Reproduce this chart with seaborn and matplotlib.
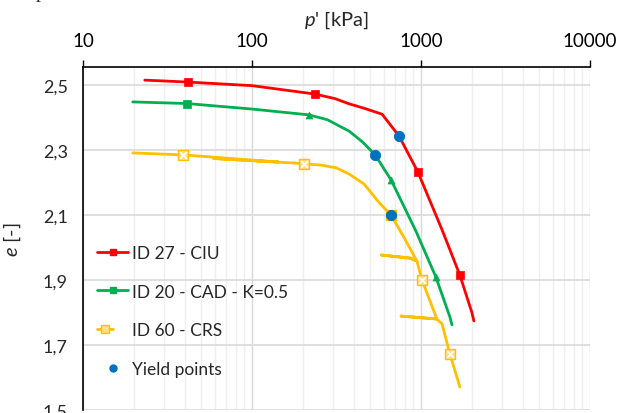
import numpy as np
import pandas as pd
import matplotlib
matplotlib.use("Agg")
import matplotlib.pyplot as plt
import seaborn as sns
from matplotlib.lines import Line2D
from matplotlib.legend_handler import HandlerTuple
from matplotlib.ticker import FixedLocator, NullFormatter

# ---------------- data ----------------
ciu_p = [23.2, 42, 100, 237, 310, 376, 470, 589, 741, 959, 1331, 1698, 2000, 2055]
ciu_e = [2.515, 2.509, 2.498, 2.472, 2.458, 2.442, 2.427, 2.41, 2.343, 2.232, 2.055, 1.915, 1.80, 1.774]
ciu_mark_p = [42, 237, 959, 1698]
ciu_mark_e = [2.509, 2.472, 2.232, 1.915]

cad_p = [19.7, 41.1, 100, 218, 280, 328, 376, 450, 535, 665, 934, 1225, 1483, 1524]
cad_e = [2.448, 2.443, 2.426, 2.408, 2.393, 2.374, 2.358, 2.325, 2.285, 2.208, 2.05, 1.909, 1.786, 1.762]
cad_sq_p = [41.1]
cad_sq_e = [2.443]
cad_tri_p = [218, 665, 1225]
cad_tri_e = [2.408, 2.208, 1.909]

crs_p = [19.7, 38.9, 59, 143, 59, 150, 204, 260, 315, 376, 461, 565, 665, 795, 946, 871, 581,
         871, 946, 1014, 1241, 762, 1241, 1331, 1483, 1698]
crs_e = [2.291, 2.285, 2.278, 2.263, 2.274, 2.262, 2.258, 2.253, 2.245, 2.226, 2.195, 2.138, 2.10,
         2.03, 1.958, 1.968, 1.977, 1.966, 1.958, 1.90, 1.78, 1.789, 1.78, 1.765, 1.672, 1.571]
crs_mark_p = [38.9, 204, 665, 1014, 1483]
crs_mark_e = [2.285, 2.258, 2.10, 1.90, 1.672]

yield_p = [741, 535, 665]
yield_e = [2.343, 2.285, 2.10]

labels = ["ID 27 - CIU", "ID 20 - CAD - K=0.5", "ID 60 - CRS", "Yield points"]
ytick_vals = [1.5, 1.7, 1.9, 2.1, 2.3, 2.5]
ytick_labels = ["1,5", "1,7", "1,9", "2,1", "2,3", "2,5"]
xtick_vals = [10, 100, 1000, 10000]
xtick_labels = ["10", "100", "1000", "10000"]

RED = "#FF0000"
GREEN = "#00B050"
YEL = "#FFC000"
BLUE = "#0070C0"

# ---------------- style ----------------
sns.set_style("white")
plt.rcParams["font.family"] = ["Lato", "DejaVu Sans"]
plt.rcParams["mathtext.fontset"] = "custom"
plt.rcParams["mathtext.it"] = "Lato:italic"
plt.rcParams["mathtext.rm"] = "Lato"

fig = plt.figure(figsize=(6.17, 4.14), dpi=100)
W, H = 617, 414
ax = fig.add_axes([83 / W, 3 / H, 507 / W, 343 / H])

ax.set_xscale("log")
ax.set_xlim(10, 10000)
ax.set_ylim(1.5, 2.5 + 18 * 0.2 / 65)

# grid
ax.xaxis.set_minor_locator(FixedLocator([m * 10 ** d for d in (1, 2, 3) for m in range(2, 10)]))
ax.xaxis.set_minor_formatter(NullFormatter())
ax.grid(True, which="minor", axis="x", color="#EFEFEF", lw=1.0)
ax.grid(True, which="major", axis="x", color="#D9D9D9", lw=1.0)
ax.grid(True, which="major", axis="y", color="#D9D9D9", lw=1.2)
ax.set_axisbelow(True)

lw = 2.0
# lines
def line(p, e, color):
    df = pd.DataFrame({"p": p, "e": e})
    sns.lineplot(data=df, x="p", y="e", sort=False, estimator=None, color=color,
                 lw=lw, ax=ax, legend=False, zorder=3)

line(crs_p, crs_e, YEL)
line(cad_p, cad_e, GREEN)
line(ciu_p, ciu_e, RED)

# markers
sns.scatterplot(x=crs_mark_p, y=crs_mark_e, marker="s", s=42, color="#FFE08A",
                edgecolor=YEL, linewidth=1.0, ax=ax, zorder=4, legend=False)
sns.scatterplot(x=crs_mark_p, y=crs_mark_e, marker="x", s=24, color="white",
                linewidth=1.2, ax=ax, zorder=5, legend=False)
sns.scatterplot(x=cad_sq_p, y=cad_sq_e, marker="s", s=38, color=GREEN,
                edgecolor=GREEN, ax=ax, zorder=4, legend=False)
sns.scatterplot(x=cad_tri_p, y=cad_tri_e, marker="^", s=26, color=GREEN,
                edgecolor=GREEN, ax=ax, zorder=4, legend=False)
sns.scatterplot(x=ciu_mark_p, y=ciu_mark_e, marker="s", s=38, color=RED,
                edgecolor=RED, ax=ax, zorder=4, legend=False)
sns.scatterplot(x=yield_p, y=yield_e, marker="o", s=55, color=BLUE,
                edgecolor=BLUE, ax=ax, zorder=6, legend=False)

# axes / ticks
ax.xaxis.tick_top()
ax.xaxis.set_label_position("top")
ax.set_xticks(xtick_vals)
ax.set_xticklabels(xtick_labels)
ax.set_yticks(ytick_vals)
ax.set_yticklabels(ytick_labels)
ax.tick_params(axis="x", which="major", direction="out", length=5, width=1,
               labelsize=13.5, pad=8, colors="black")
ax.tick_params(axis="x", which="minor", length=0)
ax.tick_params(axis="y", direction="out", length=5, width=1, labelsize=13, pad=6)
ax.set_xlabel(r"$\it{p}$' [kPa]", fontsize=14.5, labelpad=5)
ax.set_ylabel(r"$\it{e}$ [-]", fontsize=14.5)
ax.yaxis.set_label_coords(-(83 - 23) / 507, 0.5)

for s in ("right", "bottom"):
    ax.spines[s].set_visible(False)
for s in ("left", "top"):
    ax.spines[s].set_color("black")
    ax.spines[s].set_linewidth(1.2)

# legend
h_red = Line2D([], [], color=RED, lw=lw, marker="s", markersize=5)
h_green = Line2D([], [], color=GREEN, lw=lw, marker="s", markersize=5)
h_yel1 = Line2D([], [], color=YEL, lw=lw, marker="s", markersize=6,
                markerfacecolor="#FFE08A", markeredgecolor=YEL)
h_yel2 = Line2D([], [], color="white", lw=0, marker="x", markersize=4, markeredgewidth=1.2)
h_yield = Line2D([], [], color=BLUE, lw=0, marker="o", markersize=5)
leg = fig.legend([h_red, h_green, (h_yel1, h_yel2), h_yield], labels,
                 loc="upper left", bbox_to_anchor=(97 / W, 1 - 246 / H),
                 frameon=False, fontsize=12.5, handlelength=1.8, handletextpad=0.2,
                 labelspacing=1.3, borderpad=0, borderaxespad=0,
                 handler_map={tuple: HandlerTuple(ndivide=None)})

fig.text(40 / W, 1 + 6 / H, "p", fontsize=14, family="Liberation Serif",
         ha="center", va="center")

fig.savefig("out.png", dpi=100)
